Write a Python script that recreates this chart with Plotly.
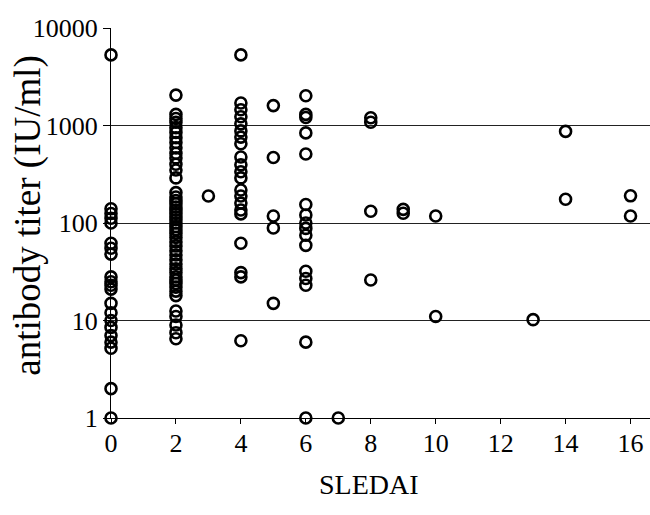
import plotly.graph_objects as go

# SLEDAI score groups and antibody titers (IU/ml)
sledai_0 = [5300, 140, 125, 112, 100, 62, 55, 48, 28, 25, 23, 21, 15, 12, 10, 8.5, 7, 6, 5.2, 2, 1]
sledai_2 = [2050, 1300, 1180, 1080, 950, 850, 750, 670, 590, 520, 465, 400, 350, 290,
            205, 185, 170, 158, 146, 135, 125, 116, 108, 100, 92, 85, 78, 71, 64, 58, 52,
            47, 42, 38, 34, 31, 28, 26, 24, 22, 20, 18, 12.5, 11, 9, 7.5, 6.5]
sledai_3 = [189]
sledai_4 = [5300, 1700, 1450, 1230, 1040, 880, 760, 650, 475, 395, 335, 290, 218, 189,
            160, 136, 124, 62, 31, 28, 6.2]
sledai_5 = [1600, 470, 118, 89, 15]
sledai_6 = [2020, 1300, 1210, 840, 510, 155, 121, 100, 88, 75, 59, 32, 27, 23, 6.0, 1]
sledai_7 = [1]
sledai_8 = [1200, 1080, 132, 26]
sledai_9 = [138, 126]
sledai_10 = [118, 11]
sledai_13 = [10.2]
sledai_14 = [870, 175]
sledai_16 = [190, 118]

groups = {0: sledai_0, 2: sledai_2, 3: sledai_3, 4: sledai_4, 5: sledai_5, 6: sledai_6,
          7: sledai_7, 8: sledai_8, 9: sledai_9, 10: sledai_10, 13: sledai_13,
          14: sledai_14, 16: sledai_16}

x_ticks = [0, 2, 4, 6, 8, 10, 12, 14, 16]
y_ticks = [1, 10, 100, 1000, 10000]
y_tick_text = ["1", "10", "100", "1000", "10000"]

xs, ys = [], []
for k, vals in groups.items():
    xs += [k] * len(vals)
    ys += vals

font = "Liberation Serif, Times New Roman, serif"

fig = go.Figure()
fig.add_trace(go.Scatter(
    x=xs, y=ys, mode="markers",
    marker=dict(symbol="circle-open", size=11, color="black", line=dict(width=2.6, color="black")),
    cliponaxis=False, showlegend=False,
))

fig.update_layout(
    width=650, height=515,
    margin=dict(l=111, r=0, t=28, b=97),
    paper_bgcolor="white", plot_bgcolor="white",
    font=dict(family=font, size=26, color="black"),
    xaxis=dict(range=[0, 16.6], tickvals=x_ticks, ticks="outside", ticklen=5,
               tickcolor="black", showline=True, linecolor="black", linewidth=1,
               showgrid=False, zeroline=False, tickfont=dict(size=26, family=font),
               ticklabelstandoff=-3, automargin=False),
    yaxis=dict(type="log", range=[0, 4], tickvals=y_ticks, ticktext=y_tick_text,
               ticks="outside", ticklen=7, tickcolor="black", showline=True,
               linecolor="black", linewidth=1, showgrid=True, gridcolor="#222222",
               gridwidth=1, zeroline=False, tickfont=dict(size=26, family=font),
               automargin=False),
    annotations=[
        dict(text="SLEDAI", xref="paper", yref="paper", x=0.478, y=-0.17,
             xanchor="center", yanchor="middle", showarrow=False,
             font=dict(size=28, family=font)),
        dict(text="antibody titer (IU/ml)", xref="paper", yref="paper", x=-0.153, y=0.52,
             xanchor="center", yanchor="middle", textangle=-90, showarrow=False,
             font=dict(size=37, family=font)),
    ],
)

fig.write_html("out.html")
